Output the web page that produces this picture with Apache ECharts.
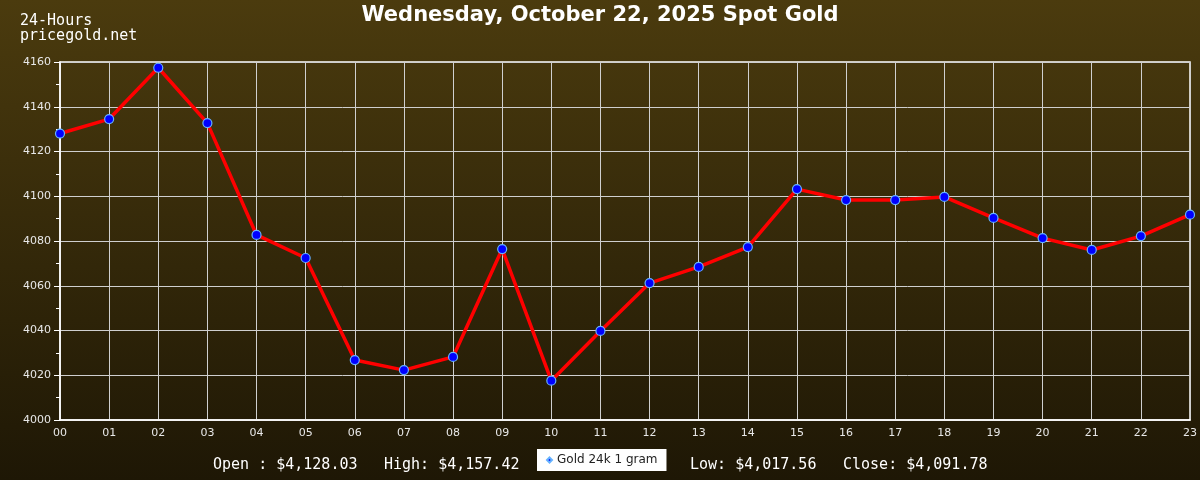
<!DOCTYPE html>
<html>
<head>
<meta charset="utf-8">
<script src="https://cdn.jsdelivr.net/npm/echarts@6/dist/echarts.min.js"></script>
<style>
html,body{margin:0;padding:0;background:#2e240a;}
#c{width:1200px;height:480px;}
</style>
</head>
<body>
<div id="c"></div>
<script>
const hours = ["00","01","02","03","04","05","06","07","08","09","10","11","12","13","14","15","16","17","18","19","20","21","22","23"];
const prices = [4128.03,4134.5,4157.42,4132.7,4082.7,4072.4,4026.8,4022.3,4028.2,4076.4,4017.56,4039.8,4061.2,4068.4,4077.3,4103.2,4098.3,4098.3,4099.7,4090.3,4081.3,4076.0,4082.2,4091.78];
const seriesName = "Gold 24k 1 gram";
const titleText = "Wednesday, October 22, 2025 Spot Gold";
const stats = ["Open : $4,128.03","High: $4,157.42","Low: $4,017.56","Close: $4,091.78"];

const chart = echarts.init(document.getElementById('c'), null, {renderer:'canvas'});
const mono = '"DejaVu Sans Mono", "Liberation Mono", monospace';
const option = {
  animation:false,
  backgroundColor: new echarts.graphic.LinearGradient(0,0,0,1,[
    {offset:0,color:'#4b3b0e'},{offset:1,color:'#1e1705'}
  ]),
  title:{text:titleText,left:'center',top:0,
    textStyle:{color:'#ffffff',fontFamily:'DejaVu Sans',fontWeight:'bold',fontSize:21}},
  graphic:[
    {type:'text',left:20,top:14,style:{text:'24-Hours\npricegold.net',fill:'#ffffff',font:'15px '+mono,lineHeight:15}},
    {type:'text',left:213,top:458,style:{text:stats[0],fill:'#ffffff',font:'15px '+mono}},
    {type:'text',left:384,top:458,style:{text:stats[1],fill:'#ffffff',font:'15px '+mono}},
    {type:'text',left:690,top:458,style:{text:stats[2],fill:'#ffffff',font:'15px '+mono}},
    {type:'text',left:843,top:458,style:{text:stats[3],fill:'#ffffff',font:'15px '+mono}}
  ],
  legend:{
    data:[seriesName],left:537,top:449,
    backgroundColor:'#ffffff',borderRadius:0,padding:[5,9,5,9],
    itemWidth:5,itemHeight:5,itemGap:6,
    icon:'diamond',
    textStyle:{color:'#222222',fontFamily:'DejaVu Sans',fontSize:12}
  },
  grid:{left:60,right:10,top:62,bottom:60,show:true,borderColor:'#ffffff',borderWidth:1.5,backgroundColor:'transparent'},
  xAxis:{
    type:'category',data:hours,boundaryGap:false,
    axisLine:{lineStyle:{color:'#ffffff',width:1.5}},
    axisTick:{show:false},
    axisLabel:{color:'#e8e8e8',fontFamily:'DejaVu Sans',fontSize:11,margin:8},
    splitLine:{show:true,lineStyle:{color:'#cfcfcf',width:1}}
  },
  yAxis:{
    type:'value',min:4000,max:4160,interval:20,
    axisLine:{show:true,lineStyle:{color:'#ffffff',width:1.5}},
    axisTick:{show:true,inside:false,length:6,lineStyle:{color:'#ffffff'}},
    minorTick:{show:true,splitNumber:2,length:4,lineStyle:{color:'#ffffff'}},
    axisLabel:{color:'#e8e8e8',fontFamily:'DejaVu Sans',fontSize:11,margin:9,formatter:v=>String(v)},
    splitLine:{show:true,lineStyle:{color:'#cfcfcf',width:1}}
  },
  series:[{
    name:seriesName,type:'line',data:prices,
    lineStyle:{color:'#ff0000',width:3.5},
    symbol:'circle',symbolSize:9,
    itemStyle:{color:'#0000ff',borderColor:'#66b3ff',borderWidth:1.2},
    z:3
  }]
};
chart.setOption(option);
</script>
</body>
</html>
